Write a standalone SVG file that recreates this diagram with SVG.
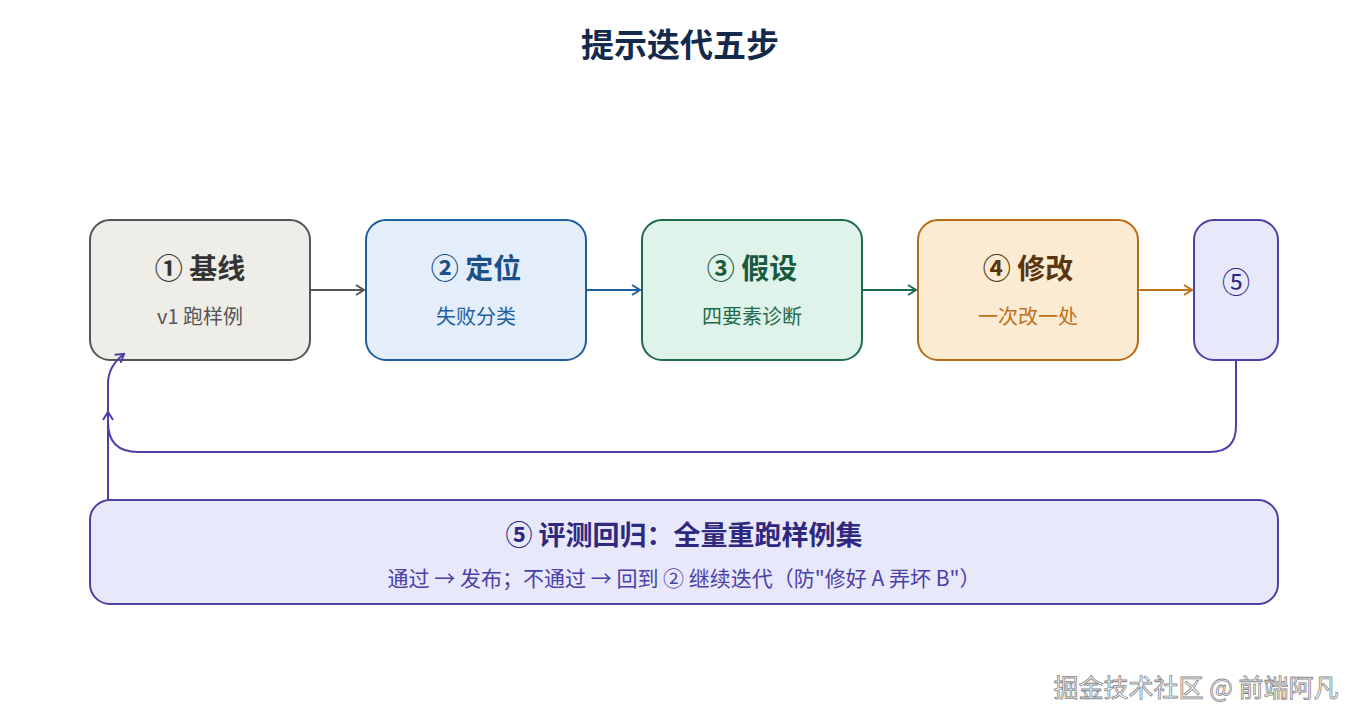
<svg xmlns="http://www.w3.org/2000/svg" width="1360" height="720" viewBox="0 0 1360 720">
<defs>
<style>
text{font-family:"Noto Sans CJK SC","Liberation Sans",sans-serif;text-anchor:middle;dominant-baseline:central}
.t{font-size:28px;font-weight:bold}
.s{font-size:20px}
.box{stroke-width:2}
.c{fill:none;stroke-width:2}
</style>
<marker id="mg" viewBox="0 0 12 12" refX="10" refY="6" markerWidth="12" markerHeight="12" markerUnits="userSpaceOnUse" orient="auto"><path d="M2,1 L10,6 L2,11" fill="none" stroke="#555" stroke-width="2"/></marker>
<marker id="mb" viewBox="0 0 12 12" refX="10" refY="6" markerWidth="12" markerHeight="12" markerUnits="userSpaceOnUse" orient="auto"><path d="M2,1 L10,6 L2,11" fill="none" stroke="#1f5f9f" stroke-width="2"/></marker>
<marker id="mgr" viewBox="0 0 12 12" refX="10" refY="6" markerWidth="12" markerHeight="12" markerUnits="userSpaceOnUse" orient="auto"><path d="M2,1 L10,6 L2,11" fill="none" stroke="#1e6b4a" stroke-width="2"/></marker>
<marker id="mo" viewBox="0 0 12 12" refX="10" refY="6" markerWidth="12" markerHeight="12" markerUnits="userSpaceOnUse" orient="auto"><path d="M2,1 L10,6 L2,11" fill="none" stroke="#c0701a" stroke-width="2"/></marker>
<marker id="mp" viewBox="0 0 12 12" refX="10" refY="6" markerWidth="12" markerHeight="12" markerUnits="userSpaceOnUse" orient="auto"><path d="M2,1 L10,6 L2,11" fill="none" stroke="#4a40a8" stroke-width="2"/></marker>
</defs>
<rect width="1360" height="720" fill="#ffffff"/>
<text x="680" y="43" style="font-size:33px;font-weight:bold" fill="#15294a">提示迭代五步</text>

<g id="node1">
<rect class="box" x="90" y="220" width="220" height="140" rx="20" fill="#efede8" stroke="#555"/>
<text class="t" x="200" y="267" fill="#333">① 基线</text>
<text class="s" x="200" y="315" fill="#555">v1 跑样例</text>
</g>
<g id="node2">
<rect class="box" x="366" y="220" width="220" height="140" rx="20" fill="#e3eefa" stroke="#1f5f9f"/>
<text class="t" x="476" y="267" fill="#1a4f8a">② 定位</text>
<text class="s" x="476" y="315" fill="#1f5fa0">失败分类</text>
</g>
<g id="node3">
<rect class="box" x="642" y="220" width="220" height="140" rx="20" fill="#dff3ea" stroke="#1e6b4a"/>
<text class="t" x="752" y="267" fill="#1a5a3e">③ 假设</text>
<text class="s" x="752" y="315" fill="#1e6b4a">四要素诊断</text>
</g>
<g id="node4">
<rect class="box" x="918" y="220" width="220" height="140" rx="20" fill="#fbebd3" stroke="#b86a14"/>
<text class="t" x="1028" y="267" fill="#5a3510">④ 修改</text>
<text class="s" x="1028" y="315" fill="#c0701a">一次改一处</text>
</g>
<g id="node5">
<rect class="box" x="1194" y="220" width="84" height="140" rx="20" fill="#e8e8fb" stroke="#4a40a8"/>
<text x="1236" y="281" style="font-size:28px" fill="#2e2880">⑤</text>
</g>
<g id="node6">
<rect class="box" x="90" y="500" width="1188" height="104" rx="20" fill="#e8e8fb" stroke="#4a40a8"/>
<text x="684" y="533" style="font-size:27px;font-weight:bold" fill="#2e2880">⑤ 评测回归：全量重跑样例集</text>
<text x="684" y="577" style="font-size:21px" fill="#4a40a8">通过 → 发布；不通过 → 回到 ② 继续迭代（防"修好 A 弄坏 B"）</text>
</g>

<g id="connectors">
<path class="c" d="M310,290 H364" stroke="#555" marker-end="url(#mg)"/>
<path class="c" d="M586,290 H640" stroke="#1f5f9f" marker-end="url(#mb)"/>
<path class="c" d="M862,290 H916" stroke="#1e6b4a" marker-end="url(#mgr)"/>
<path class="c" d="M1138,290 H1192" stroke="#c0701a" marker-end="url(#mo)"/>
<path class="c" d="M1236,360 V426 Q1236,452 1210,452 H138 Q108,452 108,422 V412" stroke="#4a40a8" marker-end="url(#mp)"/>
<path class="c" d="M108,500 V384 Q108,366 124,354" stroke="#4a40a8" marker-end="url(#mp)"/>
</g>

<text x="1196" y="686" style="font-size:25px" fill="#ffffff" stroke="#888" stroke-width="0.8">掘金技术社区 @ 前端阿凡</text>
</svg>
